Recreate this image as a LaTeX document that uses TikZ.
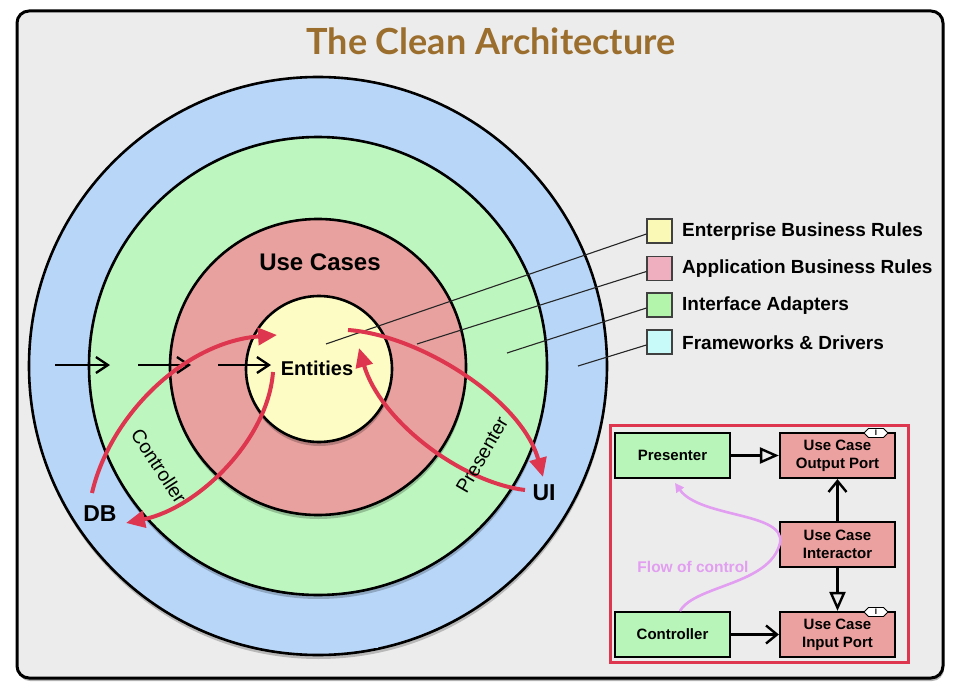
\documentclass[tikz,border=0pt]{standalone}
\usepackage{fontspec}
\setmainfont{Liberation Sans}
\newfontfamily\titlefont{Lato}
\usetikzlibrary{arrows.meta,shadows}
\definecolor{bggray}{RGB}{236,236,236}
\definecolor{titlebrown}{RGB}{155,110,45}
\definecolor{fwblue}{RGB}{184,214,248}
\definecolor{iagreen}{RGB}{189,246,190}
\definecolor{ucred}{RGB}{232,161,158}
\definecolor{enyellow}{RGB}{253,252,196}
\definecolor{lgyellow}{RGB}{250,250,182}
\definecolor{lgpink}{RGB}{240,175,190}
\definecolor{lggreen}{RGB}{180,245,172}
\definecolor{lgcyan}{RGB}{200,250,250}
\definecolor{arrred}{RGB}{221,54,78}
\definecolor{flowviolet}{RGB}{226,158,240}
\definecolor{boxgreen}{RGB}{184,245,184}
\definecolor{boxred}{RGB}{235,161,159}
\tikzset{
  ring/.style={circle,draw=black,line width=2.6pt,inner sep=0pt,
    drop shadow={shadow xshift=0.5pt,shadow yshift=-4pt,opacity=0.22,fill=black}},
  lgbox/.style={draw=black!75,line width=1.2pt,minimum width=25pt,minimum height=24pt,inner sep=0pt},
  lgtext/.style={anchor=west,inner sep=0pt,font=\bfseries\fontsize{19}{20}\selectfont},
  lgline/.style={draw=black!85,line width=1.1pt},
  flowarrow/.style={line width=2.3pt,-{Straight Barb[length=12pt,width=16pt,line width=2.3pt]}},
  redarrow/.style={draw=arrred,line width=4pt,-{Triangle[length=19pt,width=17pt]}},
  curvelabel/.style={font=\fontsize{19.5}{22}\selectfont,inner sep=0pt},
  bigbold/.style={font=\bfseries\fontsize{23}{24}\selectfont,inner sep=0pt},
  ibox/.style={draw=black,line width=2.2pt,minimum width=115pt,minimum height=45pt,inner sep=0pt,
    align=center,font=\bfseries\fontsize{15}{18}\selectfont},
  realize/.style={line width=2.4pt,-{Triangle[open,length=19pt,width=16pt,line width=2.4pt]}},
  uses/.style={line width=2.4pt,-{Straight Barb[length=11pt,width=18pt,line width=2.4pt]}},
}
\begin{document}
\begin{tikzpicture}[x=1pt,y=-1pt]
\useasboundingbox (0,0) rectangle (962,693);
\fill[white] (0,0) rectangle (962,693);
% frame
\node[draw=black,line width=3pt,rounded corners=12pt,fill=bggray,minimum width=926pt,minimum height=667pt,
  drop shadow={shadow xshift=1pt,shadow yshift=-3pt,opacity=0.3,fill=black}] (frame) at (480,344.5) {};
% title
\node[text=titlebrown,font=\titlefont\bfseries\fontsize{36}{36}\selectfont,inner sep=0pt] (title) at (491,41) {The Clean Architecture};
% circles
\node[ring,fill=fwblue,minimum size=578pt] (fw) at (318,366) {};
\node[ring,fill=iagreen,minimum size=458pt] (ia) at (318,366) {};
\node[ring,fill=ucred,minimum size=296pt] (uc) at (318,367) {};
\node[ring,fill=enyellow,minimum size=146pt] (en) at (319,369) {};
\fill[fwblue] (262,599) rectangle (378,648);
% legend
\node[lgbox,fill=lgyellow] (l1) at (659.5,231) {};
\node[lgbox,fill=lgpink] (l2) at (659.5,268.5) {};
\node[lgbox,fill=lggreen] (l3) at (659.5,305) {};
\node[lgbox,fill=lgcyan] (l4) at (659.5,342) {};
\node[lgtext] (t1) at (682,232) {Enterprise Business Rules};
\node[lgtext] (t2) at (682,269) {Application Business Rules};
\node[lgtext] (t3) at (682,306) {Interface Adapters};
\node[lgtext] (t4) at (682,343) {Frameworks \& Drivers};
\coordinate (p1) at (326,344);
\coordinate (p2) at (417,344);
\coordinate (p3) at (507,353);
\coordinate (p4) at (578,366);
\draw[lgline] (p1) -- ([yshift=-3pt]l1.west);
\draw[lgline] (p2) -- ([yshift=-3pt]l2.west);
\draw[lgline] (p3) -- ([yshift=-3pt]l3.west);
\draw[lgline] (p4) -- ([yshift=-3pt]l4.west);
% labels
\node[font=\bfseries\fontsize{24}{26}\selectfont,inner sep=0pt] (uclabel) at (320,262) {Use Cases};
\node[font=\bfseries\fontsize{20}{22}\selectfont,inner sep=0pt] (enlabel) at (317,368) {Entities};
\node[bigbold] (db) at (100,514) {DB};
\node[bigbold] (ui) at (544,493) {UI};
% black dependency arrows
\coordinate (a1s) at (55,365); \coordinate (a1e) at (110,365);
\coordinate (a2s) at (138,365); \coordinate (a2e) at (191,365);
\coordinate (a3s) at (218,365); \coordinate (a3e) at (271,365);
\draw[flowarrow] (a1s) -- (a1e);
\draw[flowarrow] (a2s) -- (a2e);
\draw[flowarrow] (a3s) -- (a3e);
% red flow arrows
\coordinate (cAs) at (92,493); \coordinate (cAe) at (277,335);
\coordinate (cBs) at (273,372); \coordinate (cBe) at (126,523);
\coordinate (pCs) at (348,330); \coordinate (pCe) at (543,477);
\coordinate (pDs) at (525,490); \coordinate (pDe) at (359,348);
\draw[redarrow] (cAs) .. controls (110,415) and (185,342) .. (cAe);
\draw[redarrow] (cBs) .. controls (268,440) and (198,508) .. (cBe);
\draw[redarrow] (pCs) .. controls (420,335) and (522,400) .. (pCe);
\draw[redarrow] (pDs) .. controls (460,482) and (380,420) .. (pDe);
\node[curvelabel,rotate=-57] (ctrllabel) at (159,466) {Controller};
\node[curvelabel,rotate=60] (preslabel) at (482,455) {Presenter};
% inset
\node[draw=arrred,line width=3pt,fill=bggray,minimum width=298pt,minimum height=237pt,inner sep=0pt] (inset) at (759,543.5) {};
\node[ibox,fill=boxgreen] (pres) at (672.5,455.5) {Presenter};
\node[ibox,fill=boxred] (outp) at (837.5,455.5) {Use Case\\Output Port};
\node[ibox,fill=boxred] (inter) at (837.5,544.5) {Use Case\\Interactor};
\node[ibox,fill=boxgreen] (ctrl) at (672.5,634.5) {Controller};
\node[ibox,fill=boxred] (inp) at (837.5,634.5) {Use Case\\Input Port};
\draw[realize] (pres) -- (outp);
\draw[uses] (inter) -- (outp);
\draw[realize] (inter) -- (inp);
\draw[uses] (ctrl) -- (inp);
% interface markers
\draw[fill=white,line width=0.9pt] (864,433) -- (868.5,428.5) -- (883.5,428.5) -- (888,433) -- (883.5,437.5) -- (868.5,437.5) -- cycle;
\node[font=\bfseries\fontsize{8}{8}\selectfont,inner sep=0pt] (oi) at (876,433) {I};
\draw[fill=white,line width=0.9pt] (864,612) -- (868.5,607.5) -- (883.5,607.5) -- (888,612) -- (883.5,616.5) -- (868.5,616.5) -- cycle;
\node[font=\bfseries\fontsize{8}{8}\selectfont,inner sep=0pt] (ii) at (876,612) {I};
% flow of control
\coordinate (fs) at (680,611); \coordinate (fm) at (780,543); \coordinate (fe) at (675,483);
\draw[draw=flowviolet,line width=2.6pt,-{Triangle[length=9pt,width=9pt]}] (fs) .. controls (695,585) and (770,585) .. (fm) .. controls (786,512) and (700,518) .. (fe);
\node[text=flowviolet,font=\bfseries\fontsize{15.5}{17}\selectfont,inner sep=0pt] (flowlabel) at (693,567) {Flow of control};
\end{tikzpicture}
\end{document}
